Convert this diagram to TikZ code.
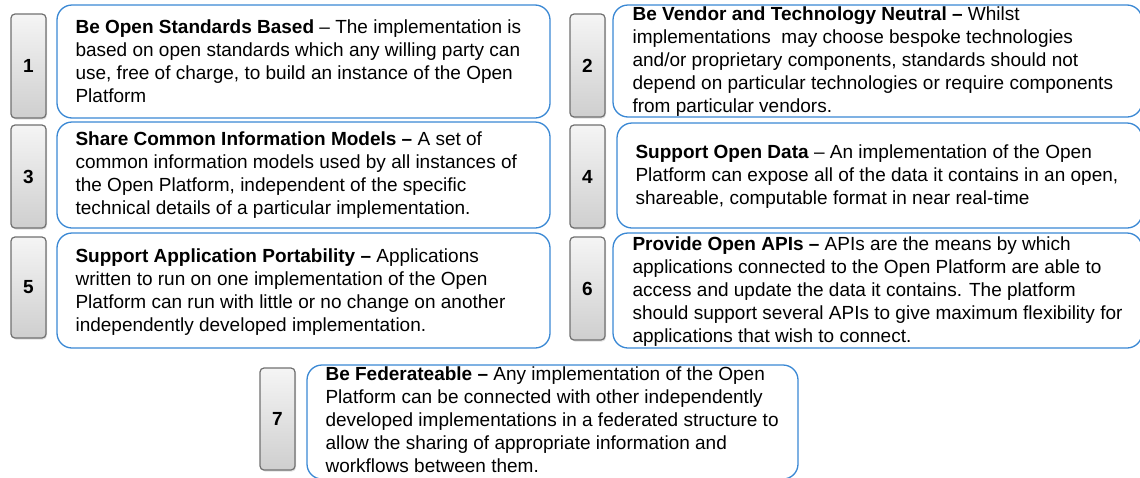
\documentclass[tikz,border=0pt]{standalone}
\usepackage{fontspec}
\setmainfont{Liberation Sans}
\usetikzlibrary{shadows}
\definecolor{boxblue}{RGB}{58,136,212}
\definecolor{tabedge}{RGB}{112,112,112}

\begin{document}
\begin{tikzpicture}[x=1pt,y=-1pt,
    principle/.style={draw=boxblue, line width=1.3pt, rounded corners=15pt, fill=white},
    tab/.style={draw=tabedge, line width=1.2pt, rounded corners=4pt,
      top color=gray!8, bottom color=gray!38, minimum width=35pt,
      drop shadow={opacity=0.25, shadow xshift=1pt, shadow yshift=-1.5pt},
      font=\fontsize{19}{23}\selectfont\bfseries},
    desc/.style={anchor=west, align=left, inner sep=0pt, font=\fontsize{19}{23}\selectfont}]
      \useasboundingbox (0,0) rectangle (1140,477);
      \clip (0,0) rectangle (1140,477);
      % number tabs
      \node [tab, minimum height=104pt] (tab1) at (28.5,66) {1};
      \node [tab, minimum height=103pt] (tab3) at (28.5,176.5) {3};
      \node [tab, minimum height=101pt] (tab5) at (28.5,287.5) {5};
      \node [tab, minimum height=103pt] (tab2) at (587.5,65.5) {2};
      \node [tab, minimum height=103pt] (tab4) at (587.5,176.5) {4};
      \node [tab, minimum height=103pt] (tab6) at (587.5,288.5) {6};
      \node [tab, minimum height=102pt] (tab7) at (277.5,419) {7};
      % principle boxes
      \node [principle, minimum width=493pt, minimum height=113pt] (box1) at (303.5,61.5) {};
      \node [principle, minimum width=493pt, minimum height=106pt] (box3) at (303.5,175) {};
      \node [principle, minimum width=493pt, minimum height=115pt] (box5) at (303.5,290.5) {};
      \node [principle, minimum width=529pt, minimum height=112pt] (box2) at (877.5,61) {};
      \node [principle, minimum width=525pt, minimum height=105pt] (box4) at (879.5,175.5) {};
      \node [principle, minimum width=529pt, minimum height=115pt] (box6) at (877.5,290.5) {};
      \node [principle, minimum width=491pt, minimum height=114pt] (box7) at (552.5,422) {};
      % texts
      \node [desc] (txt1) at ([xshift=19pt]box1.west) {\textbf{Be Open Standards Based} – The implementation is\\
        based on open standards which any willing party can\\
        use, free of charge, to build an instance of the Open\\
        Platform};
      \node [desc] (txt2) at ([xshift=20pt,yshift=-1pt]box2.west) {\textbf{Be Vendor and Technology Neutral –} Whilst\\
        implementations\ \ may choose bespoke technologies\\
        and/or proprietary components, standards should not\\
        depend on particular technologies or require components\\
        from particular vendors.};
      \node [desc] (txt3) at ([xshift=19pt]box3.west) {\textbf{Share Common Information Models –} A set of\\
        common information models used by all instances of\\
        the Open Platform, independent of the specific\\
        technical details of a particular implementation.};
      \node [desc] (txt4) at ([xshift=19pt,yshift=-1.5pt]box4.west) {\textbf{Support Open Data} – An implementation of the Open\\
        Platform can expose all of the data it contains in an open,\\
        shareable, computable format in near real-time};
      \node [desc] (txt5) at ([xshift=19pt,yshift=-1.5pt]box5.west) {\textbf{Support Application Portability –} Applications\\
        written to run on one implementation of the Open\\
        Platform can run with little or no change on another\\
        independently developed implementation.};
      \node [desc] (txt6) at ([xshift=20pt,yshift=-1.5pt]box6.west) {\textbf{Provide Open APIs –} APIs are the means by which\\
        applications connected to the Open Platform are able to\\
        access and update the data it contains. The platform\\
        should support several APIs to give maximum flexibility for\\
        applications that wish to connect.};
      \node [desc] (txt7) at ([xshift=19pt,yshift=2pt]box7.west) {\textbf{Be Federateable –} Any implementation of the Open\\
        Platform can be connected with other independently\\
        developed implementations in a federated structure to\\
        allow the sharing of appropriate information and\\
        workflows between them.};
    \end{tikzpicture}
\end{document}
